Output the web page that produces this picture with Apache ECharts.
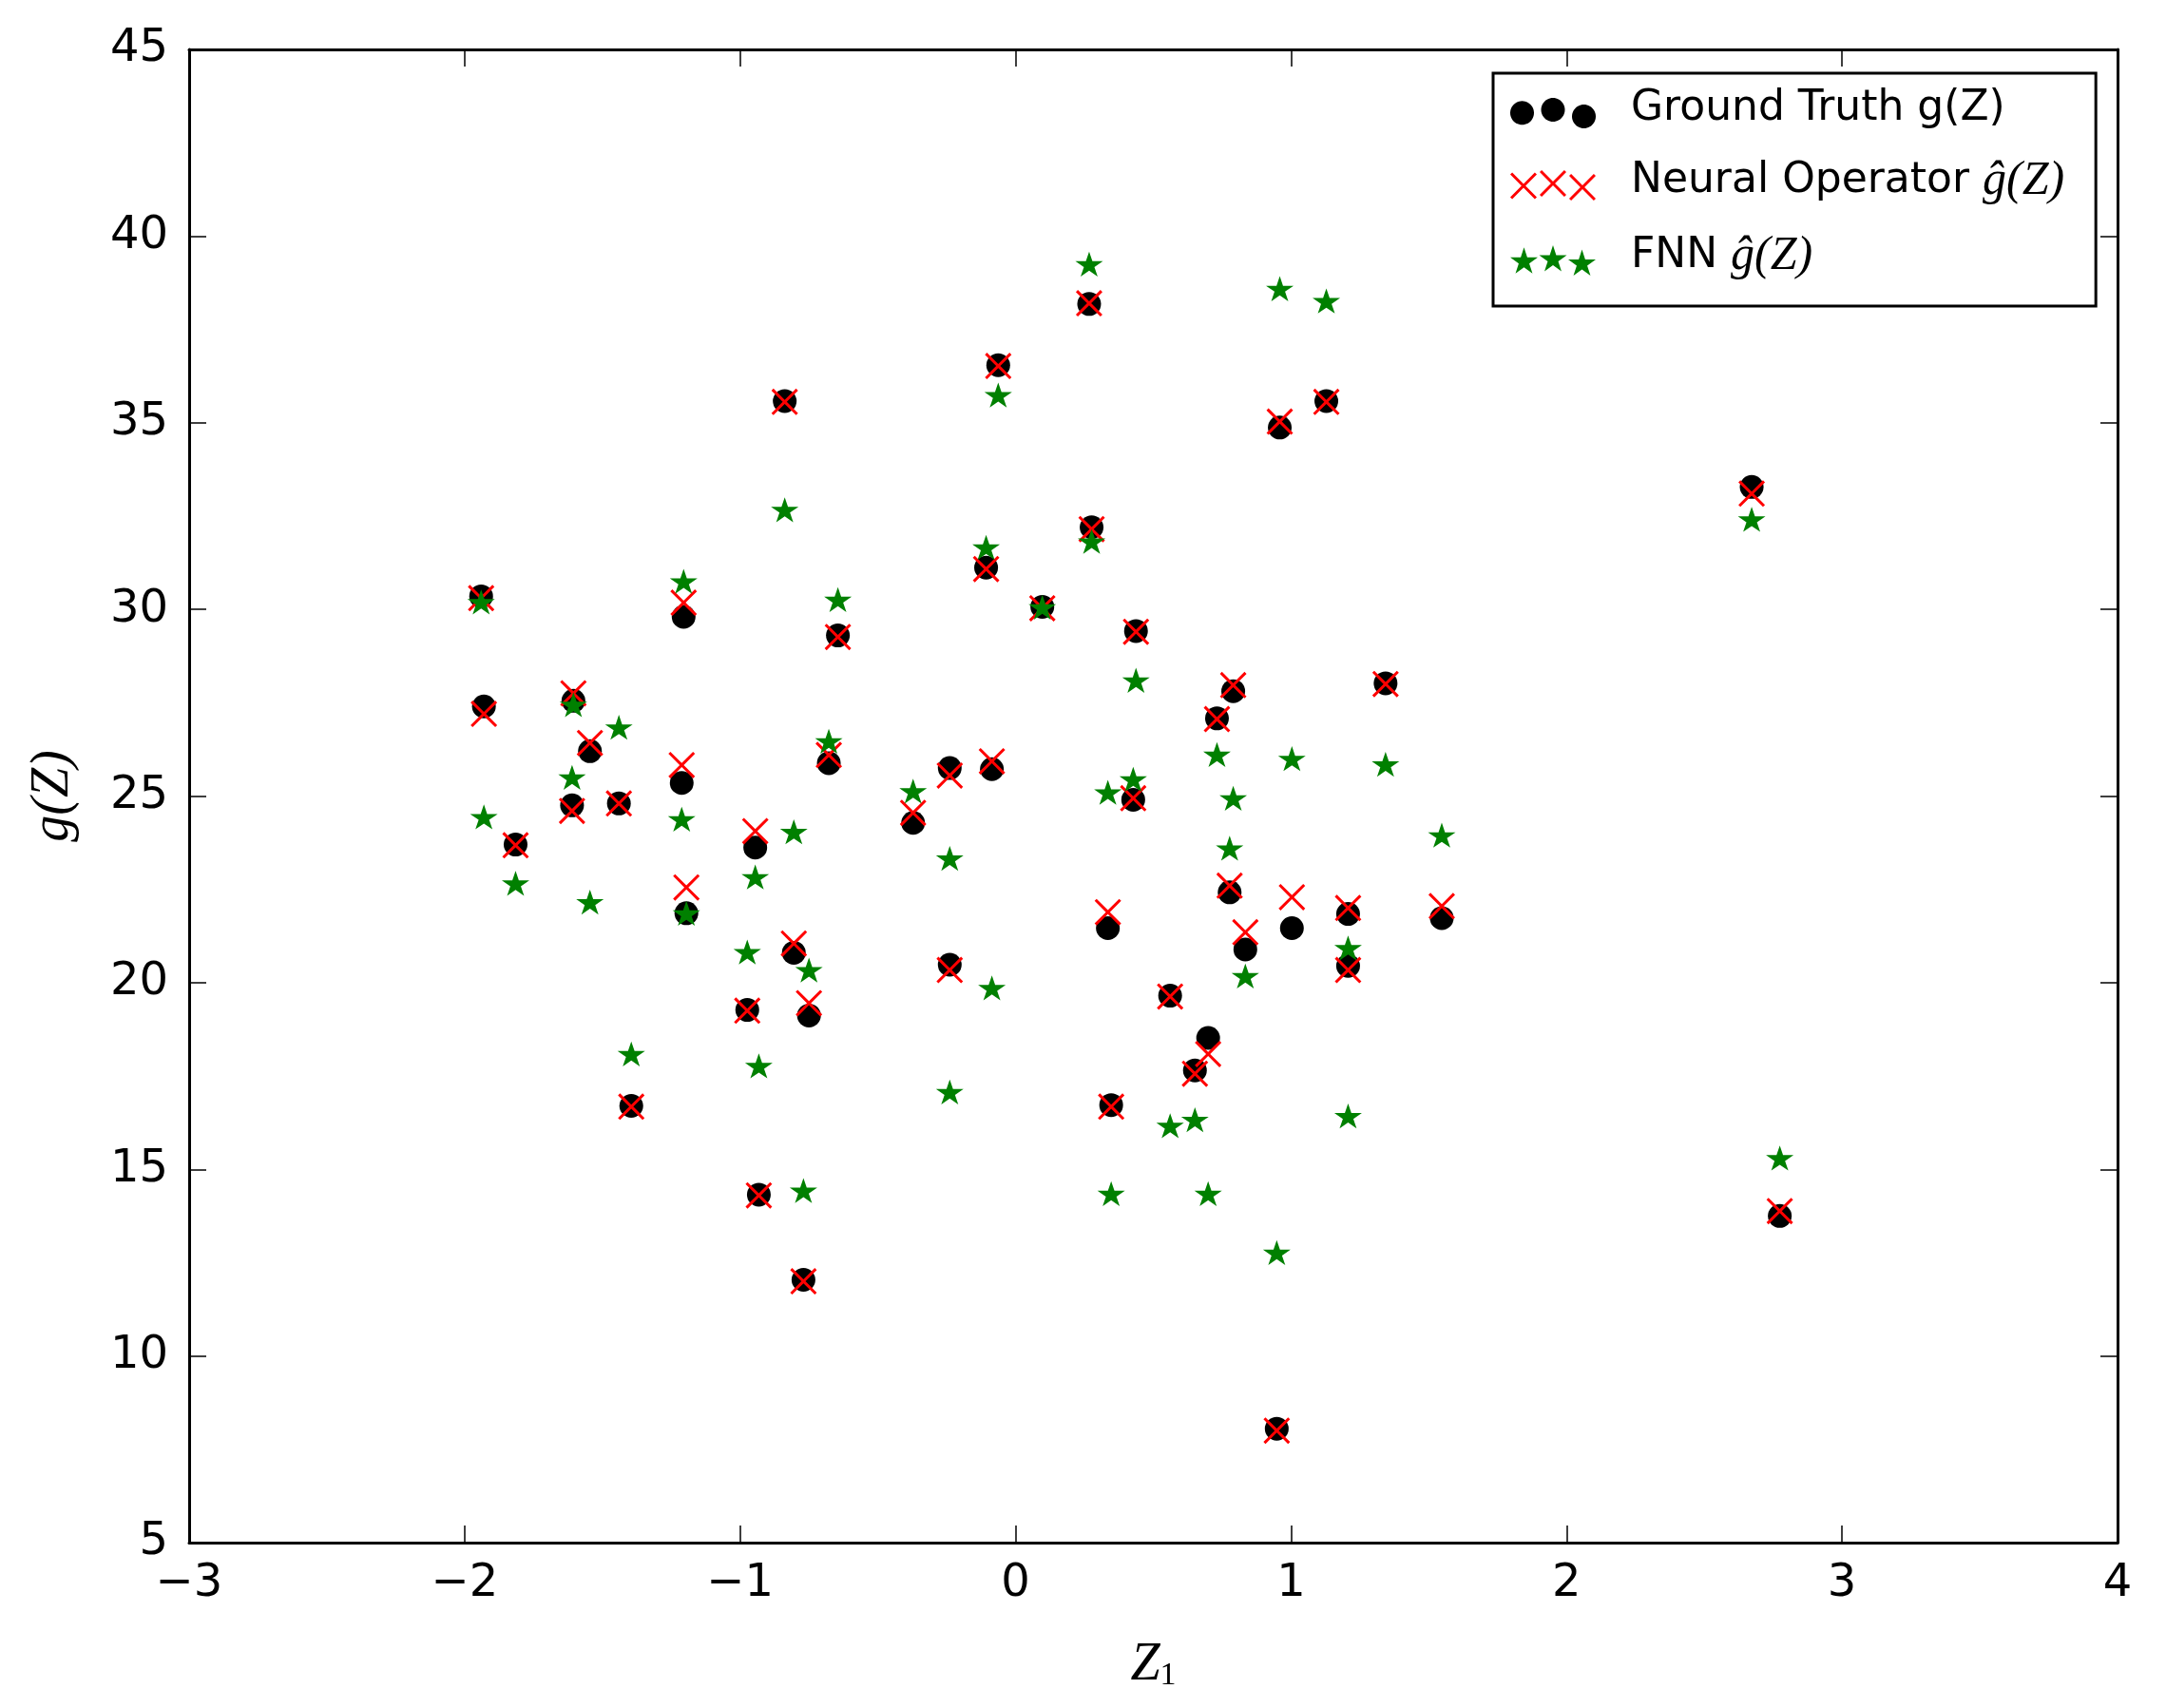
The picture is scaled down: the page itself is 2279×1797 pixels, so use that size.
<!DOCTYPE html>
<html>
<head>
<meta charset="utf-8">
<script src="https://cdn.jsdelivr.net/npm/echarts@6/dist/echarts.min.js"></script>
<style>
html,body{margin:0;padding:0;background:#fff;}
#chart{width:2279px;height:1797px;}
</style>
</head>
<body>
<div id="chart"></div>
<script>
// ---- data ----
const z1 = [-1.94, -1.93, -1.815, -1.61, -1.605, -1.545, -1.44, -1.395, -1.212, -1.205,
            -1.195, -0.974, -0.945, -0.932, -0.838, -0.805, -0.75, -0.77, -0.678, -0.645,
            -0.372, -0.239, -0.239, -0.107, -0.086, -0.063, 0.097, 0.267, 0.276, 0.335,
            0.347, 0.437, 0.427, 0.561, 0.651, 0.699, 0.731, 0.79, 0.777, 0.834,
            0.948, 0.959, 1.003, 1.128, 1.207, 1.207, 1.343, 1.547, 2.672, 2.774];
const groundTruth = [30.35, 27.4, 23.7, 24.75, 27.55, 26.2, 24.8, 16.7, 25.35, 29.8,
                     21.86, 19.27, 23.62, 14.32, 35.58, 20.8, 19.12, 12.04, 25.88, 29.3,
                     24.28, 25.75, 20.48, 31.12, 25.72, 36.54, 30.07, 38.18, 32.2, 21.46,
                     16.72, 29.42, 24.9, 19.65, 17.65, 18.52, 27.08, 27.81, 22.42, 20.89,
                     8.05, 34.87, 21.46, 35.58, 21.84, 20.45, 28.02, 21.73, 33.28, 13.75];
const neuralOperator = [30.3, 27.2, 23.68, 24.6, 27.75, 26.42, 24.8, 16.68, 25.83, 30.18,
                        22.55, 19.25, 24.06, 14.3, 35.56, 21.05, 19.45, 12.0, 26.1, 29.26,
                        24.55, 25.55, 20.34, 31.08, 25.93, 36.52, 30.03, 38.2, 32.15, 21.89,
                        16.68, 29.4, 24.94, 19.63, 17.56, 18.09, 27.06, 27.97, 22.6, 21.35,
                        8.0, 35.03, 22.29, 35.56, 22.0, 20.34, 28.0, 22.05, 33.1, 13.88];
const fnn = [30.2, 24.44, 22.66, 25.5, 27.45, 22.16, 26.84, 18.09, 24.38, 30.75,
             21.86, 20.82, 22.83, 17.77, 32.67, 24.04, 20.34, 14.43, 26.47, 30.26,
             25.13, 23.33, 17.07, 31.66, 19.86, 35.74, 30.06, 39.25, 31.82, 25.1,
             14.35, 28.1, 25.45, 16.17, 16.33, 14.35, 26.11, 24.94, 23.6, 20.18,
             12.77, 38.59, 26.0, 38.26, 20.93, 16.43, 25.85, 23.95, 32.41, 15.3];
const xTickValues = [-3, -2, -1, 0, 1, 2, 3, 4];
const yTickValues = [5, 10, 15, 20, 25, 30, 35, 40, 45];
const seriesNames = ['Ground Truth g(Z)', 'Neural Operator \u011d(Z)', 'FNN \u011d(Z)'];
const seriesColors = ['#000000', '#ff0000', '#008000'];

// ---- marker shape helpers ----
function fmt(v){ return (Math.round(v*100)/100).toString(); }
function polyPath(pts){
  return 'M' + pts.map(p => fmt(p[0]) + ' ' + fmt(p[1])).join(' L') + ' Z';
}
function circlePts(cx, cy, r){
  const pts = [];
  for (let k = 0; k < 48; k++) {
    const a = k / 48 * Math.PI * 2;
    pts.push([cx + r*Math.cos(a), cy + r*Math.sin(a)]);
  }
  return pts;
}
function starPts(cx, cy, R){
  const r = R * 0.381966, pts = [];
  for (let k = 0; k < 10; k++) {
    const a = (-90 + k*36) * Math.PI / 180;
    const rr = (k % 2) ? r : R;
    pts.push([cx + rr*Math.cos(a), cy + rr*Math.sin(a)]);
  }
  return pts;
}
function crossPts(cx, cy, half, w){
  const a = w / (2*Math.SQRT2);
  const s = half - a;
  return [[-s-a,-s+a],[-s+a,-s-a],[0,-2*a],[s-a,-s-a],[s+a,-s+a],[2*a,0],
          [s+a,s-a],[s-a,s+a],[0,2*a],[-s+a,s+a],[-s-a,s-a],[-2*a,0]]
         .map(p => [cx+p[0], cy+p[1]]);
}
const crossSymbol = 'path://' + polyPath(crossPts(0, 0, 14, 3));
const starSymbol = 'path://' + polyPath(starPts(0, 0, 15.25));

// legend icons: three markers each (like matplotlib scatterpoints=3)
const circleIcon = 'path://' + [ [12.5,15.8], [45,12.5], [77.5,19.5] ]
  .map(c => polyPath(circlePts(c[0], c[1], 12.5))).join(' ');
const crossIcon = 'path://' + [ [14,16.5], [45,14], [76,18] ]
  .map(c => polyPath(crossPts(c[0], c[1], 14, 3))).join(' ');
const starIcon = 'path://' + [ [14.5,17.5], [45,15.25], [75.5,19.66] ]
  .map(c => polyPath(starPts(c[0], c[1], 15.25))).join(' ');
const legendIcons = [circleIcon, crossIcon, starIcon];

const pairs = ys => z1.map((x, i) => [x, ys[i]]);

const chart = echarts.init(document.getElementById('chart'), null, {renderer: 'canvas'});

const axisLineStyle = {color: '#000', width: 3};
const tickStyle = {color: '#000', width: 1.5};
const minus = v => String(v).replace('-', '\u2212');

const option = {
  animation: false,
  backgroundColor: '#ffffff',
  grid: {left: 199, right: 51, top: 52, bottom: 174, containLabel: false},
  xAxis: [
    {
      type: 'value', position: 'bottom',
      min: xTickValues[0], max: xTickValues[xTickValues.length-1], interval: 1,
      axisLine: {show: true, onZero: false, lineStyle: axisLineStyle},
      axisTick: {show: true, inside: true, length: 18, lineStyle: tickStyle},
      axisLabel: {show: true, margin: 20, color: '#000', fontSize: 48,
                  fontFamily: 'DejaVu Sans', formatter: minus},
      splitLine: {show: false},
      name: '{z|Z}{s|1}', nameLocation: 'middle', nameGap: 101,
      nameTextStyle: {
        color: '#000',
        rich: {
          z: {fontFamily: 'Liberation Serif', fontStyle: 'italic', fontSize: 56, lineHeight: 56, color: '#000'},
          s: {fontFamily: 'Liberation Serif', fontSize: 34, lineHeight: 34, verticalAlign: 'bottom', color: '#000'}
        }
      }
    },
    {
      type: 'value', position: 'top',
      min: xTickValues[0], max: xTickValues[xTickValues.length-1], interval: 1,
      axisLine: {show: true, onZero: false, lineStyle: axisLineStyle},
      axisTick: {show: true, inside: true, length: 18, lineStyle: tickStyle},
      axisLabel: {show: false},
      splitLine: {show: false}
    }
  ],
  yAxis: [
    {
      type: 'value', position: 'left',
      min: yTickValues[0], max: yTickValues[yTickValues.length-1], interval: 5,
      axisLine: {show: true, onZero: false, lineStyle: axisLineStyle},
      axisTick: {show: true, inside: true, length: 18, lineStyle: tickStyle},
      axisLabel: {show: true, margin: 22, color: '#000', fontSize: 48, fontFamily: 'DejaVu Sans'},
      splitLine: {show: false},
      name: 'g(Z)', nameLocation: 'middle', nameGap: 115, nameRotate: 90,
      nameTextStyle: {fontFamily: 'Liberation Serif', fontStyle: 'italic', fontSize: 56, color: '#000'}
    },
    {
      type: 'value', position: 'right',
      min: yTickValues[0], max: yTickValues[yTickValues.length-1], interval: 5,
      axisLine: {show: true, onZero: false, lineStyle: axisLineStyle},
      axisTick: {show: true, inside: true, length: 18, lineStyle: tickStyle},
      axisLabel: {show: false},
      splitLine: {show: false}
    }
  ],
  legend: {
    orient: 'vertical',
    left: 1571, top: 77,
    padding: [16, 33, 27, 18],
    itemWidth: 90, itemHeight: 32, itemGap: 29,
    borderColor: '#000', borderWidth: 3, backgroundColor: '#fff',
    selectedMode: false,
    data: seriesNames.map((n, i) => ({name: n, icon: legendIcons[i]})),
    formatter: function (name) {
      const k = name.indexOf('\u011d');
      if (k < 0) return '{s|' + name + '}';
      return '{s|' + name.slice(0, k) + '}{m|' + name.slice(k) + '}';
    },
    textStyle: {
      color: '#000',
      padding: [0, 0, 8, 32],
      rich: {
        s: {fontFamily: 'DejaVu Sans', fontSize: 44, lineHeight: 50, color: '#000'},
        m: {fontFamily: 'Liberation Serif', fontStyle: 'italic', fontSize: 50, lineHeight: 50, color: '#000'}
      }
    }
  },
  series: [
    {
      type: 'scatter', name: seriesNames[0], data: pairs(groundTruth),
      symbol: 'circle', symbolSize: 25,
      itemStyle: {color: seriesColors[0], opacity: 1},
      emphasis: {disabled: true}
    },
    {
      type: 'scatter', name: seriesNames[1], data: pairs(neuralOperator),
      symbol: crossSymbol, symbolSize: 28, symbolKeepAspect: true,
      itemStyle: {color: seriesColors[1], opacity: 1},
      emphasis: {disabled: true}
    },
    {
      type: 'scatter', name: seriesNames[2], data: pairs(fnn),
      symbol: starSymbol, symbolSize: [29, 27.6], symbolKeepAspect: true,
      itemStyle: {color: seriesColors[2], opacity: 1},
      emphasis: {disabled: true}
    }
  ]
};
chart.setOption(option);
</script>
</body>
</html>
